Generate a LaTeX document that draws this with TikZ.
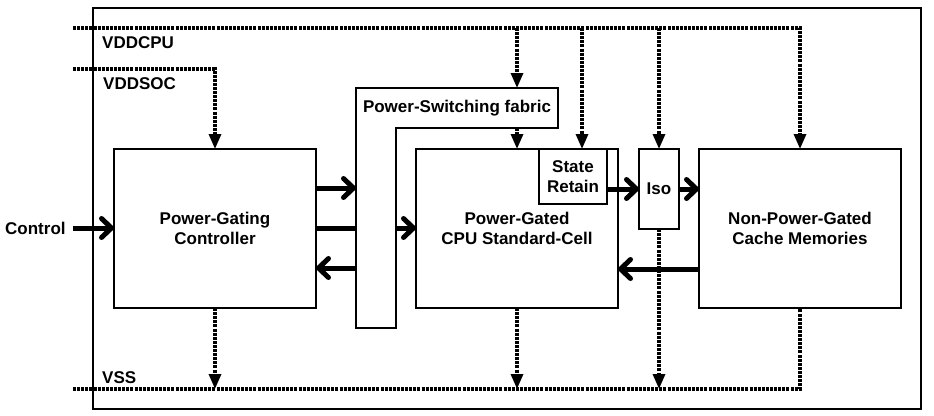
\documentclass[tikz,border=0pt]{standalone}
\usepackage{fontspec}
\setmainfont{Liberation Sans}
\usetikzlibrary{arrows.meta}
\begin{document}
\begin{tikzpicture}[x=1pt,y=-1pt,
  txt/.style={font=\bfseries\fontsize{17}{20}\selectfont},
  blk/.style={draw, line width=1.6pt, inner sep=0pt, outer sep=0pt, align=center, txt},
  ghost/.style={inner sep=0pt, outer sep=0pt},
  lbl/.style={txt, inner sep=0pt},
  pwrline/.style={line width=3.2pt, dash pattern=on 3pt off 1.1pt},
  pwr/.style={pwrline, -{Triangle[length=15pt,width=12pt]}},
  sig/.style={line width=5pt, -{Straight Barb[round,length=10pt,width=19pt]}},
  sigline/.style={line width=5pt}]
\useasboundingbox (0,0) rectangle (934,415);
% frame
\draw[line width=1.6pt] (93,8) rectangle (921,409);
% blocks
\node[blk, minimum width=202pt, minimum height=159pt] (pgc) at (215,228.5) {Power-Gating\\Controller};
\node[blk, minimum width=202pt, minimum height=159pt] (cpu) at (517,228.5) {Power-Gated\\CPU Standard-Cell};
\node[blk, minimum width=202pt, minimum height=159pt] (npg) at (800,228.5) {Non-Power-Gated\\Cache Memories};
\node[blk, fill=white, minimum width=68pt, minimum height=55pt] (sr) at (573,176.5) {State\\Retain};
\node[blk, minimum width=40pt, minimum height=80pt] (iso) at (659,189) {Iso};
% power-switching fabric (L shape)
\node[ghost, minimum width=202pt, minimum height=40pt] (fabh) at (457,108) {};
\node[ghost, minimum width=40pt, minimum height=200pt] (fabv) at (376,228) {};
\draw[line width=1.6pt] (fabh.north west) -- (fabh.north east) -- (fabh.south east) -- (fabv.north east) -- (fabv.south east) -- (fabv.south west) -- cycle;
\node[lbl] at (fabh.center) {Power-Switching fabric};
% rail labels
\node[lbl, anchor=base west] at (102,48) {VDDCPU};
\node[lbl, anchor=base west] at (103,89) {VDDSOC};
\node[lbl, anchor=base west] at (102,383) {VSS};
\node[lbl, anchor=base west] (ctl) at (5,234) {Control};
% rail coordinates
\coordinate (vcpu) at (73,28);
\coordinate (vsoc) at (73,69);
\coordinate (vss) at (73,389);
\coordinate (srin) at ([xshift=9pt]sr.north);
% supply rails
\draw[pwr] (vcpu) -| (npg.north);
\draw[pwr] (vsoc) -| (pgc.north);
\draw[pwr] (vcpu -| cpu.north) -- (cpu.north |- fabh.north);
\draw[pwr] (cpu.north |- fabh.south) -- (cpu.north);
\draw[pwr] (vcpu -| srin) -- (srin);
\draw[pwr] (vcpu -| iso.north) -- (iso.north);
\draw[pwrline] (vss) -| (npg.south);
\draw[pwr] (pgc.south) -- (pgc.south |- vss);
\draw[pwr] (cpu.south) -- (cpu.south |- vss);
\draw[pwr] (iso.south) -- (iso.south |- vss);
% signals
\coordinate (ctlstart) at (73,228);
\draw[sig] (ctlstart) -- (pgc.west |- ctlstart);
\draw[sig] (pgc.east |- 0,188) -- (fabv.west |- 0,188);
\draw[sigline] (pgc.east |- 0,228) -- (fabv.west |- 0,228);
\draw[sig] (fabv.east |- 0,228) -- (cpu.west |- 0,228);
\draw[sig] (fabv.west |- 0,268) -- (pgc.east |- 0,268);
\draw[sig] (sr.east |- iso.west) -- (iso.west);
\draw[sig] (iso.east) -- (npg.west |- iso.east);
\draw[sig] (npg.west |- 0,269) -- (cpu.east |- 0,269);
\end{tikzpicture}
\end{document}
